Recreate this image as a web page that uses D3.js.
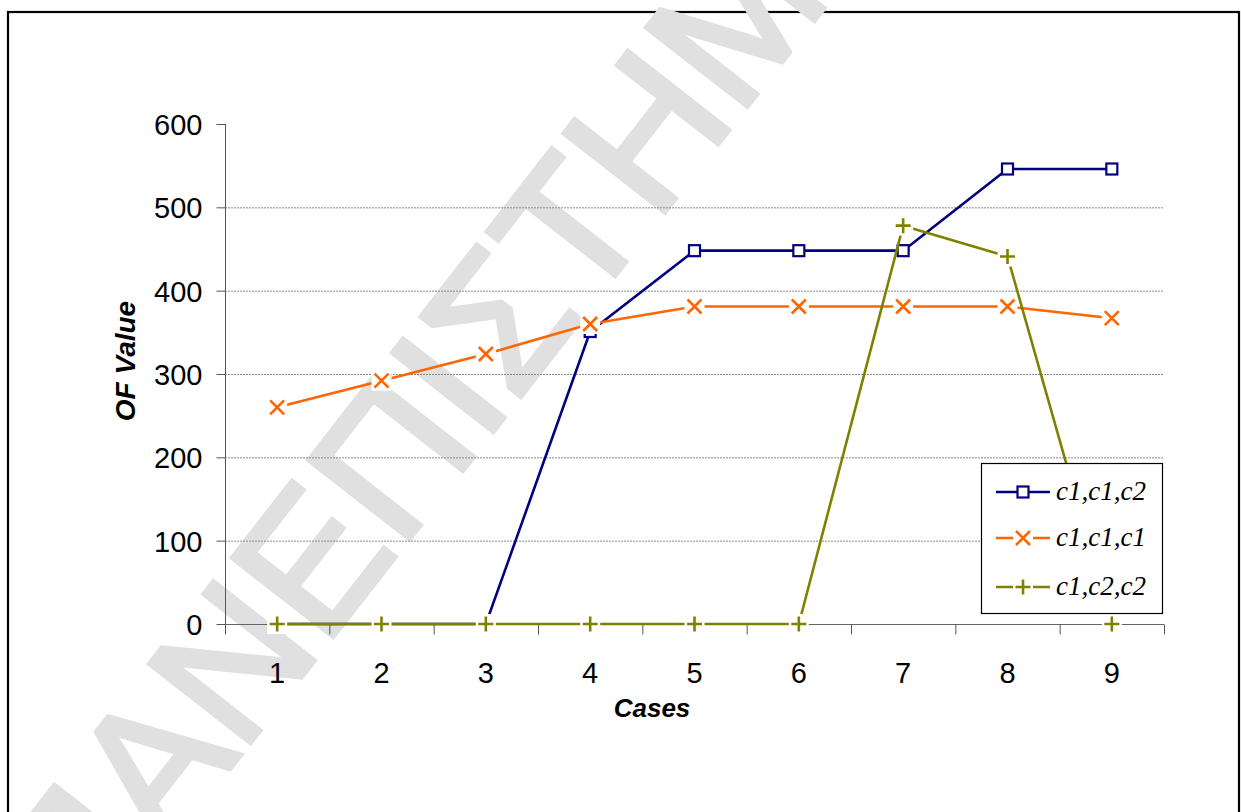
<!DOCTYPE html>
<html>
<head>
<meta charset="utf-8">
<script src="https://cdn.jsdelivr.net/npm/d3@7"></script>
<style>
  html, body { margin: 0; padding: 0; background: #fff; }
  svg { display: block; }
</style>
</head>
<body>
<svg id="chart" width="1241" height="812"></svg>
<script>
// Objective-function values per case for three configurations
const cases = [1, 2, 3, 4, 5, 6, 7, 8, 9];
const seriesNames = ["c1,c1,c2", "c1,c1,c1", "c1,c2,c2"];
const valuesC1C1C2 = [0, 0, 0, 351, 448, 448, 448, 546, 546];
const valuesC1C1C1 = [260, 292, 324, 360, 381, 381, 381, 381, 367];
const valuesC1C2C2 = [0, 0, 0, 0, 0, 0, 478, 441, 0];
const yTicks = [0, 100, 200, 300, 400, 500, 600];
const watermarkText = "ΠΑΝΕΠΙΣΤΗΜΙΟ";

const series = [
  { name: seriesNames[0], values: valuesC1C1C2, color: "#000080", marker: "square" },
  { name: seriesNames[1], values: valuesC1C1C1, color: "#FF6600", marker: "x" },
  { name: seriesNames[2], values: valuesC1C2C2, color: "#808000", marker: "plus" }
];

const svg = d3.select("#chart");

// Frame around the whole figure
svg.append("rect")
  .attr("x", 8).attr("y", 12)
  .attr("width", 1231).attr("height", 900)
  .attr("fill", "#fff").attr("stroke", "#000").attr("stroke-width", 2.2);

// Light diagonal watermark behind the chart
svg.append("text")
  .attr("transform", "translate(82,958) rotate(-52)")
  .attr("font-family", "Liberation Sans, Arial, sans-serif")
  .attr("font-size", 186)
  .attr("fill", "#e0e0e0")
  .attr("stroke", "#e0e0e0").attr("stroke-width", 5)
  .attr("stroke-linejoin", "miter")
  .text(watermarkText);

const plot = { left: 225, right: 1164, top: 124, bottom: 624 };

const x = d3.scaleBand().domain(cases).range([plot.left, plot.right]).padding(0);
const xc = d => x(d) + x.bandwidth() / 2;
const xEdges = d3.scaleLinear().domain([0, cases.length]).range([plot.left, plot.right]);
const y = d3.scaleLinear().domain([0, 600]).range([plot.bottom, plot.top]);

// Horizontal gridlines
svg.append("g")
  .selectAll("line")
  .data(yTicks.filter(t => t > 0 && t < 600))
  .join("line")
  .attr("x1", plot.left).attr("x2", plot.right)
  .attr("y1", d => y(d) + 0.5).attr("y2", d => y(d) + 0.5)
  .attr("stroke", "#8a8a8a").attr("stroke-width", 1)
  .attr("stroke-dasharray", "2,1");

// Y axis
const yAxis = svg.append("g")
  .attr("transform", `translate(${plot.left + 0.5},0)`)
  .call(d3.axisLeft(y).tickValues(yTicks).tickSize(9).tickPadding(14).tickFormat(d3.format("d")));
yAxis.select(".domain").attr("stroke", "#555").attr("d", `M0,${plot.top}V${plot.bottom}`);
yAxis.selectAll(".tick line").attr("stroke", "#555");
yAxis.selectAll(".tick text")
  .attr("font-family", "Liberation Sans, Arial, sans-serif")
  .attr("font-size", 29).attr("fill", "#000")
  .attr("dy", "0.36em");

// X axis: boundary ticks between cases
const xAxisTicks = svg.append("g")
  .attr("transform", `translate(0,${plot.bottom + 0.5})`)
  .call(d3.axisBottom(xEdges).tickValues(d3.range(cases.length + 1)).tickSize(10).tickFormat(""));
xAxisTicks.select(".domain").attr("stroke", "#666").attr("d", `M${plot.left},0H${plot.right}`);
xAxisTicks.selectAll(".tick line").attr("stroke", "#555");

// X axis: case labels centred in each band
const xAxisLabels = svg.append("g")
  .attr("transform", `translate(0,${plot.bottom})`)
  .call(d3.axisBottom(x).tickSize(0).tickPadding(0));
xAxisLabels.select(".domain").remove();
xAxisLabels.selectAll(".tick text")
  .attr("font-family", "Liberation Sans, Arial, sans-serif")
  .attr("font-size", 29).attr("fill", "#000")
  .attr("y", 59).attr("dy", 0);

// Axis titles
svg.append("text")
  .attr("x", 652).attr("y", 717)
  .attr("text-anchor", "middle")
  .attr("font-family", "Liberation Sans, Arial, sans-serif")
  .attr("font-weight", "bold").attr("font-style", "italic")
  .attr("font-size", 26)
  .text("Cases");

svg.append("text")
  .attr("transform", "translate(135,361) rotate(-90)")
  .attr("text-anchor", "middle")
  .attr("font-family", "Liberation Sans, Arial, sans-serif")
  .attr("font-weight", "bold").attr("font-style", "italic")
  .attr("font-size", 28)
  .text("OF Value");

// Marker drawing: each marker sits on a white patch that masks what lies beneath
function drawMarker(g, type, color, cx, cy) {
  if (type === "square") {
    g.append("rect")
      .attr("x", cx - 5.5).attr("y", cy - 5.5)
      .attr("width", 11).attr("height", 11)
      .attr("fill", "#fff").attr("stroke", color).attr("stroke-width", 2.2);
  } else {
    g.append("rect")
      .attr("x", cx - 10).attr("y", cy - 10)
      .attr("width", 20).attr("height", 20)
      .attr("fill", "#fff");
    const h = type === "x" ? 7 : 7.5;
    const p = type === "x"
      ? `M${cx - h},${cy - h}L${cx + h},${cy + h}M${cx - h},${cy + h}L${cx + h},${cy - h}`
      : `M${cx - h},${cy}H${cx + h}M${cx},${cy - h}V${cy + h}`;
    g.append("path").attr("d", p)
      .attr("fill", "none").attr("stroke", color).attr("stroke-width", 2.6);
  }
}

const line = d3.line().x(d => xc(d.c)).y(d => y(d.v));

series.forEach(s => {
  const g = svg.append("g");
  const pts = cases.map((c, i) => ({ c, v: s.values[i] }));
  g.append("path")
    .attr("d", line(pts))
    .attr("fill", "none")
    .attr("stroke", s.color)
    .attr("stroke-width", 2.6)
    .attr("stroke-linejoin", "round");
  pts.forEach(p => drawMarker(g, s.marker, s.color, xc(p.c), y(p.v)));
});

// Legend
const legend = svg.append("g");
legend.append("rect")
  .attr("x", 981.5).attr("y", 463.5)
  .attr("width", 181).attr("height", 150)
  .attr("fill", "#fff").attr("stroke", "#000").attr("stroke-width", 1.2);

const legendRows = [492, 538, 587];
series.forEach((s, i) => {
  const ly = legendRows[i];
  const g = legend.append("g");
  g.append("line")
    .attr("x1", 996).attr("x2", 1050)
    .attr("y1", ly).attr("y2", ly)
    .attr("stroke", s.color).attr("stroke-width", 2.6);
  drawMarker(g, s.marker, s.color, 1023, ly);
  g.append("text")
    .attr("x", 1056).attr("y", ly + 8)
    .attr("font-family", "Liberation Serif, Times New Roman, serif")
    .attr("font-style", "italic")
    .attr("font-size", 27)
    .attr("fill", "#000")
    .text(s.name);
});
</script>
</body>
</html>
